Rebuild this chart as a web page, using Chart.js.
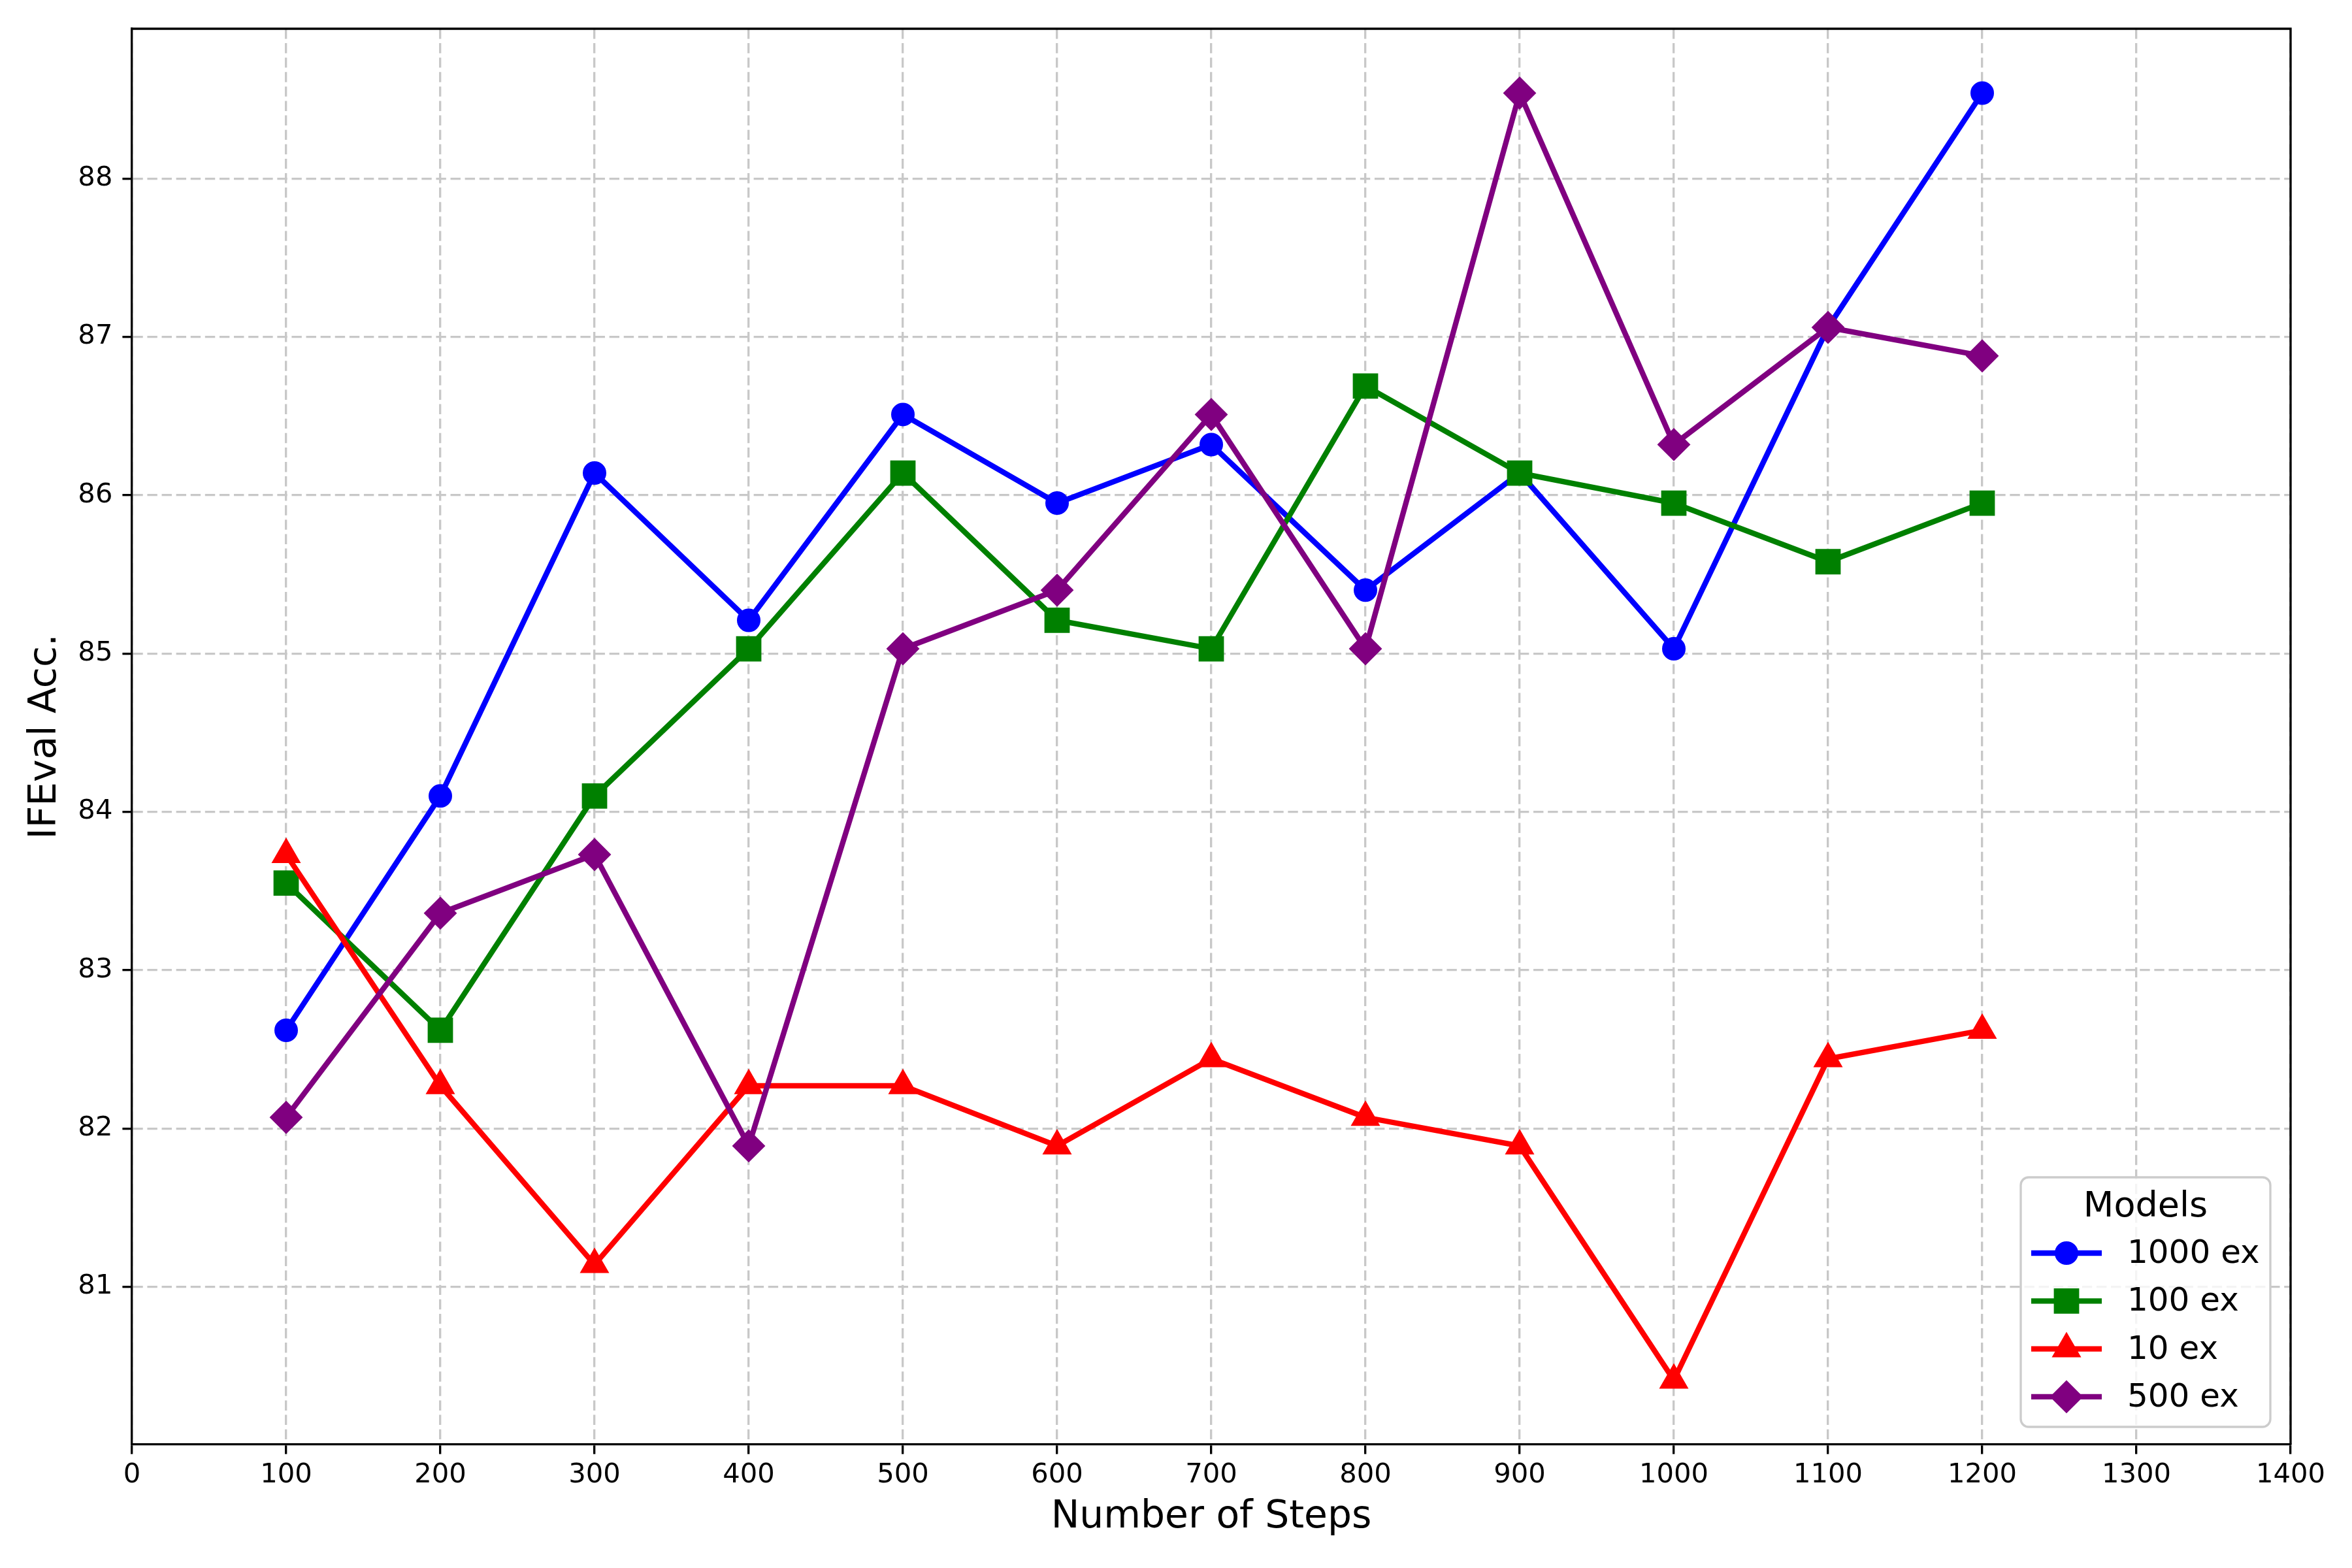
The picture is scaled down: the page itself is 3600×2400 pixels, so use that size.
<!DOCTYPE html>
<html>
<head>
<meta charset="utf-8">
<script src="https://cdn.jsdelivr.net/npm/chart.js@4/dist/chart.umd.min.js"></script>
<style>
    body { margin: 0; background: #fff; }
    canvas { display: block; }
</style>
</head>
<body>
<canvas id="chart" width="3600" height="2400" style="width:3600px;height:2400px"></canvas>
<script>
// values
const steps = [100, 200, 300, 400, 500, 600, 700, 800, 900, 1000, 1100, 1200];
const acc1000 = [82.62, 84.10, 86.14, 85.21, 86.51, 85.95, 86.32, 85.40, 86.14, 85.03, 87.06, 88.54];
const acc100 = [83.55, 82.62, 84.10, 85.03, 86.14, 85.21, 85.03, 86.69, 86.14, 85.95, 85.58, 85.95];
const acc10 = [83.73, 82.27, 81.14, 82.27, 82.27, 81.89, 82.44, 82.07, 81.89, 80.41, 82.44, 82.62];
const acc500 = [82.07, 83.36, 83.73, 81.89, 85.03, 85.40, 86.51, 85.03, 88.54, 86.32, 87.06, 86.88];
const xTicks = [0, 100, 200, 300, 400, 500, 600, 700, 800, 900, 1000, 1100, 1200, 1300, 1400];
const yTicks = [81, 82, 83, 84, 85, 86, 87, 88];
const seriesNames = ["1000 ex", "100 ex", "10 ex", "500 ex"];

const LW = 8.33;
const GRID = "#c8c8c8";

function pts(ys) {
    return steps.map((s, i) => ({ x: s, y: ys[i] }));
}

// matplotlib-style marker settings per series
const styles = [
    { color: "#0000ff", pointStyle: "circle", radius: 17 },
    { color: "#008000", pointStyle: "rect", radius: 26 },
    { color: "#ff0000", pointStyle: "triangle", radius: 24 },
    { color: "#800080", pointStyle: "rectRot", radius: 24 }
];
const seriesData = [acc1000, acc100, acc10, acc500];

// y range like matplotlib's 5% margins
const allY = seriesData.flat();
const yLo = Math.min(...allY), yHi = Math.max(...allY);
const yMin = yLo - 0.05 * (yHi - yLo);
const yMax = yHi + 0.05 * (yHi - yLo);

function drawMarker(ctx, style, x, y) {
    let r = style.radius;
    ctx.beginPath();
    if (style.pointStyle === "circle") {
        ctx.arc(x, y, r, 0, Math.PI * 2);
    } else if (style.pointStyle === "rect") {
        let s = Math.SQRT1_2 * r;
        ctx.rect(x - s, y - s, 2 * s, 2 * s);
    } else if (style.pointStyle === "triangle") {
        ctx.moveTo(x, y - r);
        ctx.lineTo(x + Math.sin(2 * Math.PI / 3) * r, y + r / 2);
        ctx.lineTo(x - Math.sin(2 * Math.PI / 3) * r, y + r / 2);
        ctx.closePath();
    } else {
        ctx.moveTo(x, y - r);
        ctx.lineTo(x + r, y);
        ctx.lineTo(x, y + r);
        ctx.lineTo(x - r, y);
        ctx.closePath();
    }
    ctx.fillStyle = style.color;
    ctx.strokeStyle = style.color;
    ctx.lineWidth = 2;
    ctx.fill();
    ctx.stroke();
}

// top + right spines
const boxPlugin = {
    id: "box",
    afterDatasetsDraw(chart) {
        const { ctx, chartArea: a } = chart;
        ctx.save();
        ctx.strokeStyle = "#000";
        ctx.lineWidth = 3.33;
        ctx.beginPath();
        ctx.moveTo(a.left, a.top);
        ctx.lineTo(a.right, a.top);
        ctx.lineTo(a.right, a.bottom);
        ctx.stroke();
        ctx.restore();
    }
};

// legend with line + marker samples, lower right
const legendPlugin = {
    id: "mplLegend",
    afterDraw(chart) {
        const { ctx, chartArea: a } = chart;
        const right = a.right - 31, bottom = a.bottom - 27;
        const w = 382, h = 382;
        const left = right - w, top = bottom - h;
        ctx.save();
        ctx.beginPath();
        ctx.roundRect(left, top, w, h, 12);
        ctx.fillStyle = "rgba(255,255,255,0.8)";
        ctx.fill();
        ctx.strokeStyle = "#cccccc";
        ctx.lineWidth = 3.33;
        ctx.stroke();

        ctx.fillStyle = "#000";
        ctx.font = "54px 'DejaVu Sans'";
        ctx.textAlign = "center";
        ctx.textBaseline = "alphabetic";
        ctx.fillText("Models", left + w / 2, top + 60);

        ctx.font = "50px 'DejaVu Sans'";
        ctx.textAlign = "left";
        ctx.textBaseline = "middle";
        for (let i = 0; i < seriesNames.length; i++) {
            const y = top + 116 + i * 73.3;
            const st = styles[i];
            ctx.beginPath();
            ctx.moveTo(left + 16, y);
            ctx.lineTo(left + 124, y);
            ctx.strokeStyle = st.color;
            ctx.lineWidth = LW;
            ctx.stroke();
            drawMarker(ctx, st, left + 70, y);
            ctx.fillStyle = "#000";
            ctx.fillText(seriesNames[i], left + 163, y + 2);
        }
        ctx.restore();
    }
};

Chart.defaults.font.family = "'DejaVu Sans'";
Chart.defaults.color = "#000";

const ctx = document.getElementById("chart").getContext("2d");
let LineChart = new Chart(ctx, {
    type: "line",
    data: {
        datasets: seriesNames.map((name, i) => ({
            label: name,
            data: pts(seriesData[i]),
            borderColor: styles[i].color,
            backgroundColor: styles[i].color,
            borderWidth: LW,
            borderJoinStyle: "round",
            pointStyle: styles[i].pointStyle,
            pointRadius: styles[i].radius,
            pointBorderWidth: 2,
            pointBackgroundColor: styles[i].color,
            pointBorderColor: styles[i].color,
            fill: false,
            tension: 0,
            order: seriesNames.length - i,
            clip: false
        }))
    },
    options: {
        responsive: false,
        devicePixelRatio: 1,
        animation: false,
        layout: { padding: { left: 0, top: 44, right: 94, bottom: 0 } },
        plugins: {
            legend: { display: false },
            tooltip: { enabled: false }
        },
        scales: {
            x: {
                type: "linear",
                min: 0,
                max: 1400,
                afterBuildTicks: (scale) => { scale.ticks = xTicks.map(v => ({ value: v })); },
                afterFit: (scale) => { scale.height = 189; },
                ticks: { font: { size: 41.7 }, padding: 8, maxRotation: 0, autoSkip: false, callback: (v) => String(v) },
                grid: { color: GRID, lineWidth: 3.33, tickLength: 14.6, tickColor: "#000", tickWidth: 3.33, tickBorderDash: [] },
                border: { display: true, color: "#000", width: 3.33, dash: [15.4, 6.7] },
                title: { display: true, text: "Number of Steps", font: { size: 58.3 }, padding: { top: 0, bottom: 42 } }
            },
            y: {
                type: "linear",
                min: yMin,
                max: yMax,
                afterBuildTicks: (scale) => { scale.ticks = yTicks.map(v => ({ value: v })); },
                afterFit: (scale) => { scale.width = 202; },
                ticks: { font: { size: 41.7 }, padding: 15, autoSkip: false, callback: (v) => String(v) },
                grid: { color: GRID, lineWidth: 3.33, tickLength: 14.6, tickColor: "#000", tickWidth: 3.33, tickBorderDash: [] },
                border: { display: true, color: "#000", width: 3.33, dash: [15.4, 6.7] },
                title: { display: true, text: "IFEval Acc.", font: { size: 58.3 }, padding: { top: 35, bottom: 0 } }
            }
        }
    },
    plugins: [boxPlugin, legendPlugin]
});
</script>
</body>
</html>
